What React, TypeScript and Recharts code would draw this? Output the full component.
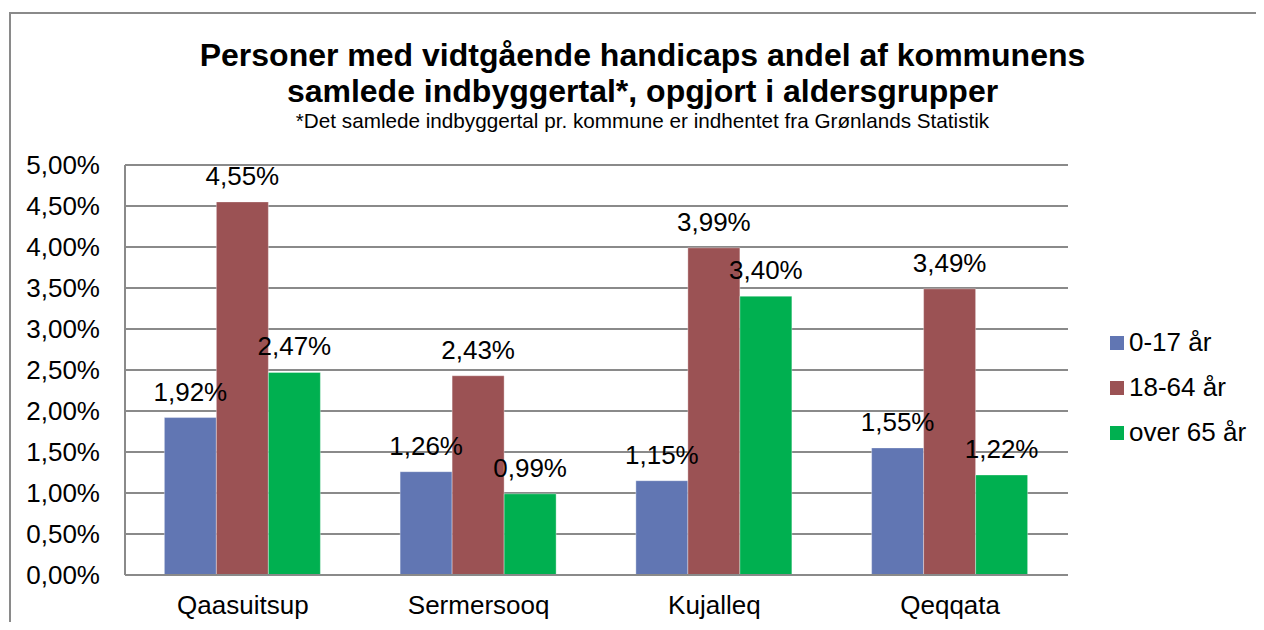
import React from 'react';
import {
  BarChart,
  Bar,
  XAxis,
  YAxis,
  CartesianGrid,
  Legend,
  LabelList,
} from 'recharts'

const kommuner = ['Qaasuitsup', 'Sermersooq', 'Kujalleq', 'Qeqqata']
const boern = [1.92, 1.26, 1.15, 1.55]
const voksne = [4.55, 2.43, 3.99, 3.49]
const aeldre = [2.47, 0.99, 3.40, 1.22]
const yTicks = [0, 0.5, 1, 1.5, 2, 2.5, 3, 3.5, 4, 4.5, 5]

const series = [
  { key: 'boern', name: '0-17 år', color: '#6176B3' },
  { key: 'voksne', name: '18-64 år', color: '#9B5254' },
  { key: 'aeldre', name: 'over 65 år', color: '#00B050' },
]

const data = kommuner.map((k, i) => ({
  name: k,
  boern: boern[i],
  voksne: voksne[i],
  aeldre: aeldre[i],
}))

const pct = (v: number) => v.toFixed(2).replace('.', ',') + '%'
const font = 'Arial, "Liberation Sans", sans-serif'
const gray = '#8a8a8a'

const LegendBox = () => (
  <div style={{ fontFamily: font, fontSize: 26, textAlign: 'left' }}>
    {series.map(s => (
      <div key={s.key} style={{ display: 'flex', alignItems: 'center', height: 45 }}>
        <span style={{ width: 14, height: 14, background: s.color, marginRight: 5 }} />
        <span>{s.name}</span>
      </div>
    ))}
  </div>
)

const App: React.FC = () => {
  return (
    <div style={{ margin: -8, width: 1264, height: 630, position: 'relative', overflow: 'hidden', background: '#fff' }}>
      <div style={{
        position: 'absolute', left: 9, top: 12, width: 1400, height: 800,
        borderLeft: `2.5px solid ${gray}`, borderTop: `2.5px solid ${gray}`,
      }} />
      <div style={{ position: 'absolute', left: 0, top: 37, width: 1285, textAlign: 'center', fontFamily: font, color: '#000' }}>
        <div style={{ fontSize: 32, fontWeight: 'bold', lineHeight: '36px' }}>
          Personer med vidtgående handicaps andel af kommunens<br />samlede indbyggertal*, opgjort i aldersgrupper
        </div>
        <div style={{ fontSize: 20.7, lineHeight: '24px' }}>
          *Det samlede indbyggertal pr. kommune er indhentet fra Grønlands Statistik
        </div>
      </div>
      <div style={{ position: 'absolute', left: 0, top: 0 }}>
        <BarChart
          width={1264}
          height={630}
          data={data}
          margin={{ top: 165, right: 196, left: 0, bottom: 0 }}
          barCategoryGap="16.7%"
          barGap={0}
        >
          <CartesianGrid vertical={false} stroke={gray} strokeWidth={2} />
          <XAxis
            dataKey="name"
            height={55}
            tickLine={false}
            tickSize={0}
            tickMargin={21}
            axisLine={{ stroke: gray, strokeWidth: 2 }}
            tick={{ fill: '#000', fontSize: 26, fontFamily: font }}
          />
          <YAxis
            width={125}
            domain={[0, 5]}
            ticks={yTicks}
            tickFormatter={pct}
            tickLine={false}
            tickSize={0}
            tickMargin={25}
            axisLine={{ stroke: gray, strokeWidth: 2 }}
            tick={{ fill: '#000', fontSize: 26, fontFamily: font }}
            interval={0}
          />
          <Legend
            layout="horizontal"
            align="center"
            verticalAlign="middle"
            content={() => <LegendBox />}
            wrapperStyle={{ left: 1110, top: 320, width: 160 }}
          />
          {series.map(s => (
            <Bar
              key={s.key}
              dataKey={s.key}
              name={s.name}
              fill={s.color}
              stroke="#ffffff"
              strokeOpacity={0.35}
              strokeWidth={1}
              isAnimationActive={false}
            >
              <LabelList
                dataKey={s.key}
                position="top"
                offset={17}
                formatter={(v: any) => pct(Number(v))}
                style={{ fill: '#000', fontSize: 26, fontFamily: font }}
              />
            </Bar>
          ))}
        </BarChart>
      </div>
    </div>
  )
};

export default App;
